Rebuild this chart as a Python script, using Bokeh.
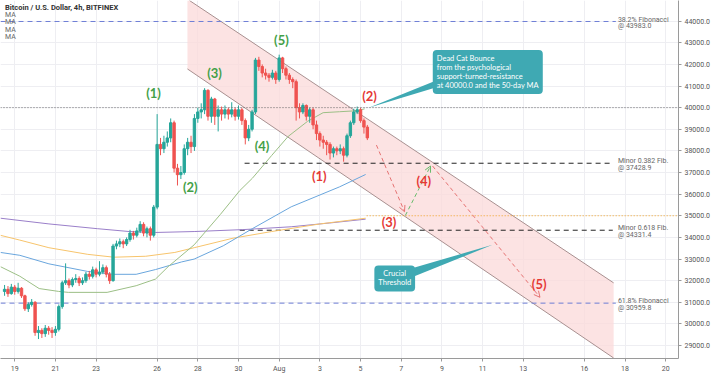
from bokeh.plotting import figure
from bokeh.models import Range1d, Span, Label, FixedTicker, NumeralTickFormatter, Arrow, OpenHead, ColumnDataSource
from bokeh.embed import file_html
from bokeh.resources import INLINE

# ---------------- data ----------------
start_day = 18.5          # July 18, 12:00 (Aug 1 = day 32)
step = 1.0 / 6.0          # 4h candles
first_open = 31500

closes = [
    31600, 31400, 31700, 31500, 31650, 31300,
    30700, 30900, 31000, 29600, 29700, 29550,
    29800, 29700, 29600, 29750, 30800, 31900,
    32000, 31800, 32050, 32100, 31900, 32000,
    32300, 32200, 32500, 32300, 32400, 32600,
    32300, 32000, 33600, 33700, 33800, 33700,
    33900, 34200, 34100, 34300, 34600, 34200,
    34400, 34100, 35400, 38300, 38100, 38400,
    38600, 39300, 37200, 36900, 37000, 38100,
    38400, 38200, 39500, 39800, 39900, 40800,
    39600, 40400, 39600, 39900, 39700, 39900,
    39700, 39900, 39600, 39900, 39400, 38600,
    39000, 39800, 42200, 41900, 41600, 41500,
    41400, 41600, 41300, 42300, 41800, 41500,
    41300, 41200, 40000, 39800, 40100, 39600,
    39900, 39200, 38800, 38500, 38400, 38300,
    37900, 38100, 38000, 38100, 37800, 38700,
    39300, 39800, 39900, 39400, 39100, 38599]
highs = [
    31800, 31750, 31850, 31800, 31900, 31700,
    31350, 31000, 31150, 31050, 29900, 29800,
    29950, 29900, 29850, 29900, 30900, 32000,
    32800, 32100, 32150, 32300, 32200, 32150,
    32400, 32450, 32650, 32600, 32900, 32750,
    32700, 32400, 33700, 33850, 33950, 33900,
    34000, 34350, 34300, 34450, 34750, 34700,
    34500, 34500, 35500, 39700, 38600, 38700,
    38900, 39500, 39400, 37400, 37300, 38300,
    38600, 38700, 39700, 40000, 40200, 40900,
    40850, 40500, 40450, 40100, 40050, 40100,
    40000, 40250, 40000, 40100, 40000, 39500,
    39200, 39900, 42300, 42350, 42000, 41800,
    41600, 41750, 41700, 42450, 42350, 41900,
    41600, 41400, 41300, 40200, 40200, 40150,
    40000, 40000, 39400, 38900, 38700, 38500,
    38400, 38200, 38200, 38300, 38200, 38800,
    39400, 39950, 40050, 40000, 39500, 39200]
lows = [
    31300, 31250, 31350, 31350, 31400, 31200,
    30600, 30550, 30800, 29450, 29300, 29350,
    29400, 29500, 29350, 29450, 29650, 30700,
    31800, 31650, 31700, 31900, 31750, 31800,
    31900, 32050, 32100, 32150, 32200, 32300,
    32150, 31850, 31950, 33450, 33550, 33500,
    33600, 33800, 33900, 34000, 34200, 34050,
    34000, 33850, 34000, 35300, 37800, 37900,
    38200, 38400, 37000, 36400, 36700, 36900,
    37800, 37900, 38000, 39300, 39500, 39700,
    39400, 39300, 39200, 38900, 39400, 39500,
    39450, 39550, 39400, 39450, 39200, 38300,
    38450, 38900, 39700, 41700, 41400, 41300,
    41200, 41300, 41100, 41200, 41600, 41300,
    41100, 40900, 39400, 39500, 39700, 39400,
    39300, 39000, 38500, 38200, 38100, 37800,
    37600, 37700, 37800, 37850, 37500, 37700,
    38600, 39200, 39700, 39300, 38800, 38500]

# moving averages (day, price)
ma50_days = [18.3, 19.25, 20.2, 21.16, 21.63, 23.54, 24.97, 25.92, 26.54, 27.82, 29.11, 30.06, 30.68, 31.63, 32.44, 33.40, 34.16, 34.97, 35.78, 36.2]
ma50_vals = [32645, 32205, 31634, 31502, 31458, 31458, 31766, 32073, 32645, 33656, 35063, 36162, 36733, 37788, 38667, 39371, 39767, 39811, 39855, 39943]
ma100_days = [18.3, 19.25, 20.68, 22.59, 23.87, 24.97, 25.92, 27.2, 27.82, 29.25, 30.68, 32.59, 34.97, 36.25]
ma100_vals = [33304, 33172, 32777, 32425, 32293, 32293, 32513, 32865, 32997, 33612, 34403, 35414, 36338, 36909]
ma150_days = [18.3, 19.25, 20.68, 22.59, 23.87, 25.44, 26.87, 27.82, 29.73, 31.63, 34.01, 36.25]
ma150_vals = [34095, 33875, 33523, 33216, 33084, 33128, 33304, 33523, 33963, 34271, 34623, 34887]
ma200_days = [18.3, 20.68, 23.06, 24.63, 25.92, 27.82, 30.2, 32.59, 34.49, 36.25]
ma200_vals = [34887, 34623, 34403, 34271, 34227, 34271, 34359, 34491, 34667, 34843]

# channel (day, price)
chan_upper_days = [27.59, 48.44]
chan_upper_vals = [44954, 31898]
chan_lower_days = [27.49, 48.44]
chan_lower_vals = [41789, 28424]

# levels
fib382 = 43983.0
fib618 = 30959.8
minor382 = 37428.9
minor618 = 34331.4
psych = 40000.0
support = 35000.0
last_price = 38599.0

x_ticks = [19, 21, 23, 26, 28, 30, 32, 34, 36, 38, 40, 42, 44, 47, 49, 51]
x_tick_labels = ["19", "21", "23", "26", "28", "30", "Aug", "3", "5", "7", "9", "11", "13", "16", "18", "20"]
y_ticks = [29000, 30000, 31000, 32000, 33000, 34000, 35000, 36000, 37000, 38000, 39000, 40000, 41000, 42000, 43000, 44000]

# ---------------- figure ----------------
X0, X1 = 18.3, 51.63
Y0, Y1 = 28400, 44954
p = figure(width=712, height=375, x_range=Range1d(X0, X1), y_range=Range1d(Y0, Y1),
           output_backend="svg", toolbar_location=None, y_axis_location="right",
           min_border_left=0, min_border_top=0, min_border_bottom=0, min_border_right=0)
p.outline_line_color = None
p.background_fill_color = "white"

FONT = "Roboto"
for ax in (p.xaxis[0], p.yaxis[0]):
    ax.axis_line_color = "#9a9a9a"
    ax.major_tick_line_color = "#9a9a9a"
    ax.minor_tick_line_color = None
    ax.major_tick_out = 3
    ax.major_tick_in = 0
    ax.major_label_standoff = 3
    ax.major_label_text_font = FONT
    ax.major_label_text_font_size = "7px"
    ax.major_label_text_color = "#555555"
p.xaxis.ticker = FixedTicker(ticks=x_ticks)
p.xaxis.major_label_overrides = {t: l for t, l in zip(x_ticks, x_tick_labels)}
p.yaxis.ticker = FixedTicker(ticks=y_ticks)
p.yaxis.formatter = NumeralTickFormatter(format="0.0")
p.xgrid.ticker = FixedTicker(ticks=x_ticks)
p.ygrid.ticker = FixedTicker(ticks=y_ticks)
p.xgrid.grid_line_color = "#eeeef2"
p.ygrid.grid_line_color = "#eeeef2"

# channel fill + edges
poly_x = [chan_lower_days[0], chan_lower_days[0], chan_upper_days[0], chan_upper_days[1], chan_lower_days[1]]
poly_y = [chan_lower_vals[0], Y1, chan_upper_vals[0], chan_upper_vals[1], chan_lower_vals[1]]
p.patch(poly_x, poly_y, fill_color="#fbd9d9", fill_alpha=0.75, line_color=None)
p.line(chan_upper_days, chan_upper_vals, line_color="#a89090", line_width=1)
p.line(chan_lower_days, chan_lower_vals, line_color="#a89090", line_width=1)

# horizontal levels
fib_end = 48.55
p.line([X0, fib_end], [fib382, fib382], line_color="#6f7fd6", line_dash="5 4", line_width=1)
p.line([X0, fib_end], [fib618, fib618], line_color="#6f7fd6", line_dash="5 4", line_width=1)
p.line([30.3, 48.4], [minor382, minor382], line_color="#222222", line_dash="5 4", line_width=1)
p.line([30.06, 48.4], [minor618, minor618], line_color="#222222", line_dash="5 4", line_width=1)
p.add_layout(Span(location=psych, dimension="width", line_color="#666666", line_dash="1 2", line_width=1))
p.line([36.3, X1], [support, support], line_color="#f5a623", line_dash="1 2", line_width=1.2)

# moving averages
p.line(ma200_days, ma200_vals, line_color="#9a7fc9", line_width=1)
p.line(ma150_days, ma150_vals, line_color="#f7c46c", line_width=1)
p.line(ma100_days, ma100_vals, line_color="#6aa6dd", line_width=1)
p.line(ma50_days, ma50_vals, line_color="#9cbf86", line_width=1)

# candles
opens = [first_open] + closes[:-1]
times = [start_day + i * step for i in range(len(closes))]
up_col, dn_col = "#26a69a", "#ef5350"
colors = [up_col if c >= o else dn_col for o, c in zip(opens, closes)]
src = ColumnDataSource(dict(t=times, o=opens, c=closes, h=highs, l=lows, col=colors,
                            top=[max(o, c) for o, c in zip(opens, closes)],
                            bot=[min(o, c) for o, c in zip(opens, closes)]))
p.segment(x0="t", y0="h", x1="t", y1="l", color="col", line_width=1, source=src)
p.vbar(x="t", width=step * 0.7, top="top", bottom="bot", fill_color="col", line_color="col", source=src)

# projection paths
def dashed_arrow(x0, y0, x1, y1, col):
    p.add_layout(Arrow(x_start=x0, y_start=y0, x_end=x1, y_end=y1, line_color=col, line_width=1,
                       line_dash="4 3", end=OpenHead(size=6, line_color=col, line_width=1)))

dashed_arrow(36.78, 38270, 38.16, 35190, "#e57373")
dashed_arrow(38.20, 35010, 39.44, 37300, "#66bb6a")
dashed_arrow(39.54, 37300, 44.82, 31230, "#e57373")

# wave labels
def wave(txt, x, y, col):
    p.add_layout(Label(x=x, y=y, text=txt, text_align="center", text_baseline="middle",
                       text_color=col, text_font="Lato", text_font_style="bold",
                       text_font_size="13px"))

GREEN, RED = "#43a047", "#e53935"
wave("(1)", 25.82, 40690, GREEN)
wave("(2)", 27.63, 36340, GREEN)
wave("(3)", 28.82, 41610, GREEN)
wave("(4)", 31.16, 38230, GREEN)
wave("(5)", 32.11, 43110, GREEN)
wave("(1)", 33.97, 36820, RED)
wave("(2)", 36.44, 40560, RED)
wave("(3)", 37.40, 34710, RED)
wave("(4)", 39.11, 36600, RED)
wave("(5)", 44.78, 31850, RED)

# level labels
def lvl(txt, y):
    p.add_layout(Label(x=48.65, y=y, text=txt, text_align="left", text_baseline="middle",
                       text_color="#666666", text_font=FONT, text_font_size="7px"))

lvl("38.2% Fibonacci", fib382 + 90)
lvl("@ " + f"{fib382:.1f}", fib382 - 210)
lvl("Minor 0.382 Fib.", minor382 + 90)
lvl("@ " + f"{minor382:.1f}", minor382 - 210)
lvl("Minor 0.618 Fib.", minor618 + 90)
lvl("@ " + f"{minor618:.1f}", minor618 - 210)
lvl("61.8% Fibonacci", fib618 + 90)
lvl("@ " + f"{fib618:.1f}", fib618 - 210)

# callouts
TEAL = "#3fa9b3"
p.patch([39.75, 40.55, 36.40], [41262, 41174, 39990], fill_color=TEAL, line_color=None)
p.add_layout(Label(x=39.55, y=42668, text="Dead Cat Bounce\nfrom the psychological\nsupport-turned-resistance\nat 40000.0 and the 50-day MA",
                   text_align="left", text_baseline="top", text_color="white", text_font="Lato",
                   text_font_size="7.5px", background_fill_color=TEAL, padding=4, border_radius=4,
                   text_line_height=1.0))
p.patch([38.15, 38.65, 42.49], [32470, 32206, 33657], fill_color=TEAL, line_color=None)
p.add_layout(Label(x=37.68, y=32100, text="Crucial\nThreshold", text_align="center", text_baseline="middle",
                   text_color="white", text_font="Lato", text_font_size="7.5px",
                   background_fill_color=TEAL, padding=4, border_radius=4, text_line_height=1.0))

# header
p.add_layout(Label(x=18.52, y=44650, text="Bitcoin / U.S. Dollar, 4h, BITFINEX", text_baseline="middle",
                   text_color="#333333", text_font=FONT, text_font_style="bold", text_font_size="7.5px"))
for k, yy in enumerate([44300, 43960, 43610, 43260]):
    p.add_layout(Label(x=18.52, y=yy, text="MA", text_baseline="middle", text_color="#666666",
                       text_font=FONT, text_font_size="7px"))

# price tags on the axis
def tag(txt, y, bg, fg="white"):
    p.add_layout(Label(x=X1, y=y, x_offset=3, text=txt, text_align="left", text_baseline="middle",
                       text_color=fg, text_font=FONT, text_font_size="7px",
                       background_fill_color=bg, padding=2))

tag(f"{psych:.1f}", psych, "#3b8a3a")
tag(f"{last_price:.1f}", last_price, "#ef5350")
tag(f"{support:.1f}", support, "#f5a623")
p.add_layout(Label(x=X1, y=44700, x_offset=9, text="USD", text_align="left", text_baseline="middle",
                   text_color="#555555", text_font=FONT, text_font_size="6.5px",
                   background_fill_color="white", border_line_color="#bbbbbb", padding=2, border_radius=2))

open("out.html", "w").write(file_html(p, INLINE))
